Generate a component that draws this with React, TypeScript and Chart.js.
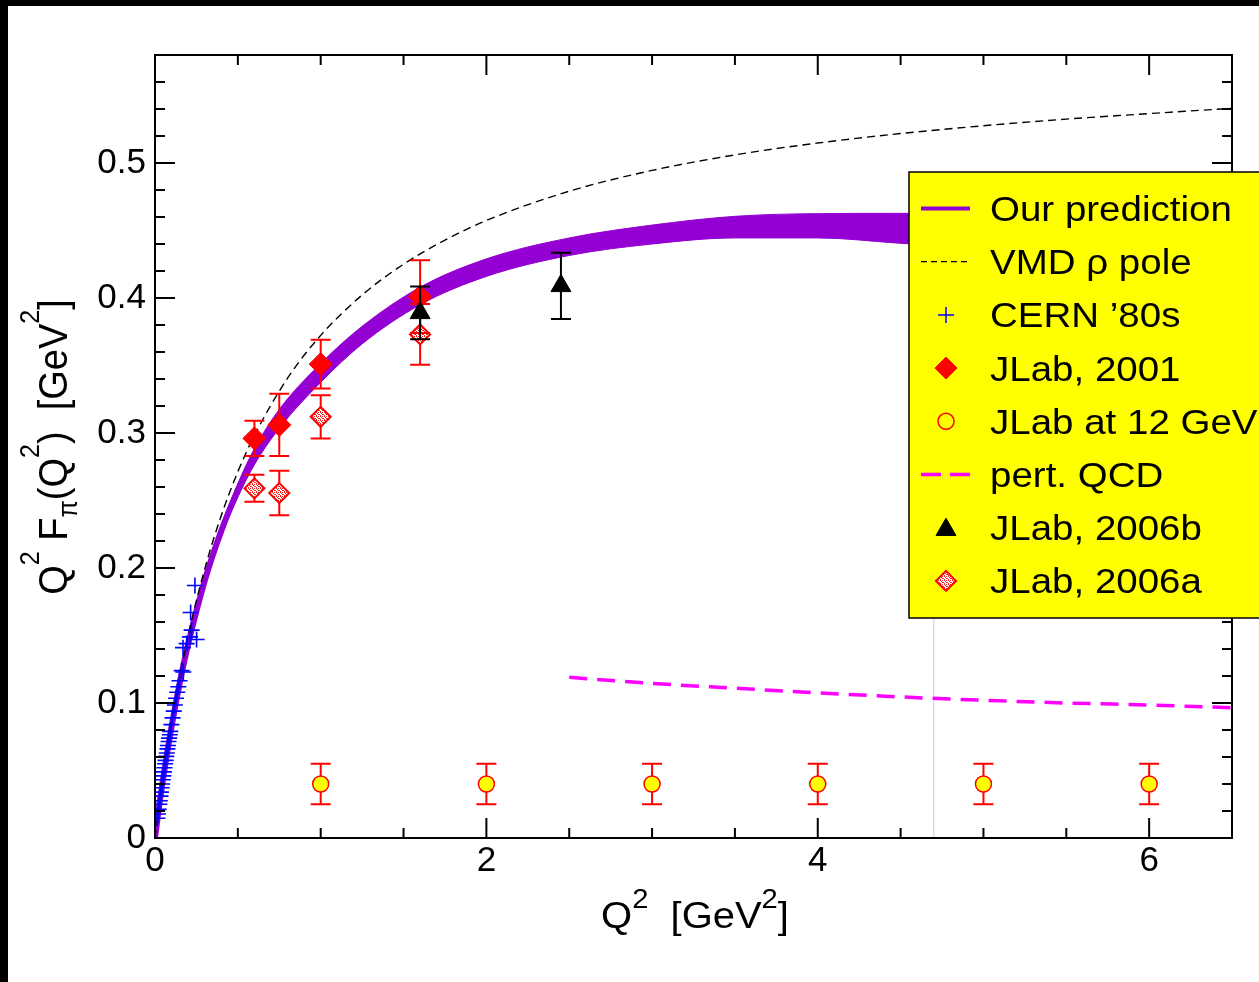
import React, { useEffect, useRef } from 'react';
import { Chart, registerables } from 'chart.js';
import { drawPoint } from 'chart.js/helpers';

Chart.register(...registerables);

// ---------- axes ----------
const X_MIN = 0;
const X_MAX = 6.5;
const Y_MIN = 0;
const Y_MAX = 0.58;
const xTickLabels = [0, 2, 4, 6];
const yTickLabels = [0, 0.1, 0.2, 0.3, 0.4, 0.5];
const xTickMarks = [0, 0.5, 1, 1.5, 2, 2.5, 3, 3.5, 4, 4.5, 5, 5.5, 6, 6.5];
const yTickMarks = [0, 0.02, 0.04, 0.06, 0.08, 0.1, 0.12, 0.14, 0.16, 0.18, 0.2, 0.22, 0.24, 0.26, 0.28, 0.3, 0.32, 0.34, 0.36, 0.38, 0.4, 0.42, 0.44, 0.46, 0.48, 0.5, 0.52, 0.54, 0.56, 0.58];

// ---------- "Our prediction" band ----------
const bandQ2 = [0, 0.025, 0.05, 0.1, 0.15, 0.2, 0.3, 0.4, 0.5, 0.6, 0.75, 1.0, 1.25, 1.6, 2.0, 2.5, 3.0, 3.5, 4.0, 4.5, 4.7];
const bandLow = [0, 0.0234, 0.0445, 0.0815, 0.1135, 0.1415, 0.1875, 0.2235, 0.2525, 0.2765, 0.3035, 0.3375, 0.366, 0.395, 0.416, 0.4315, 0.44, 0.4445, 0.4445, 0.4405, 0.439];
const bandHigh = [0, 0.0237, 0.0452, 0.0835, 0.117, 0.1455, 0.1935, 0.2315, 0.2625, 0.2885, 0.3175, 0.3515, 0.379, 0.408, 0.429, 0.4445, 0.454, 0.4605, 0.4625, 0.4627, 0.4627];
const bandEdgeQ2 = 4.7;

// ---------- VMD rho pole ----------
const vmdQ2 = [0, 0.05, 0.1, 0.2, 0.3, 0.4, 0.5, 0.6, 0.8, 1.0, 1.25, 1.5, 1.75, 2.0, 2.5, 3.0, 3.5, 4.0, 4.5, 5.0, 5.5, 6.0, 6.5];
const vmdVal = [0, 0.0461, 0.0856, 0.1496, 0.1992, 0.2389, 0.2713, 0.2982, 0.3406, 0.3723, 0.4022, 0.425, 0.4429, 0.4574, 0.4791, 0.4945, 0.506, 0.5148, 0.5218, 0.5276, 0.5325, 0.5366, 0.5405];

// ---------- pert. QCD ----------
const pqcdQ2 = [2.5, 3.0, 3.5, 4.0, 4.5, 5.0, 5.5, 6.0, 6.5];
const pqcdVal = [0.119, 0.1145, 0.111, 0.1075, 0.1045, 0.102, 0.1, 0.0985, 0.0965];

// ---------- CERN '80s ----------
const cernQ2 = [0.015, 0.018, 0.022, 0.026, 0.029, 0.033, 0.036, 0.04, 0.043, 0.047, 0.05, 0.054, 0.057, 0.061, 0.064, 0.068, 0.071, 0.075, 0.078, 0.082, 0.085, 0.089, 0.092, 0.099, 0.106, 0.113, 0.12, 0.127, 0.134, 0.141, 0.148, 0.161, 0.171, 0.169, 0.191, 0.211, 0.221, 0.251, 0.215, 0.241];
const cernVal = [0.0146, 0.0178, 0.0212, 0.025, 0.0276, 0.031, 0.034, 0.0372, 0.04, 0.0432, 0.046, 0.049, 0.052, 0.055, 0.0575, 0.0605, 0.063, 0.066, 0.0685, 0.0715, 0.074, 0.0765, 0.079, 0.084, 0.089, 0.094, 0.0985, 0.1035, 0.108, 0.112, 0.1165, 0.124, 0.123, 0.141, 0.144, 0.149, 0.154, 0.147, 0.167, 0.187];

// ---------- JLab data ----------
const jlab2001Q2 = [0.6, 0.75, 1.0, 1.6];
const jlab2001Val = [0.296, 0.306, 0.351, 0.401];
const jlab2001Err = [0.013, 0.023, 0.018, 0.027];

const jlab12Q2 = [1, 2, 3, 4, 5, 6];
const jlab12Val = [0.04, 0.04, 0.04, 0.04, 0.04, 0.04];
const jlab12Err = [0.015, 0.015, 0.015, 0.015, 0.015, 0.015];

const jlab2006bQ2 = [1.6, 2.45];
const jlab2006bVal = [0.389, 0.409];
const jlab2006bErr = [0.0195, 0.0245];

const jlab2006aQ2 = [0.6, 0.75, 1.0, 1.6];
const jlab2006aVal = [0.259, 0.2555, 0.312, 0.373];
const jlab2006aErr = [0.01, 0.0165, 0.016, 0.0225];

const legendLabels = ['Our prediction', 'VMD \u03c1 pole', 'CERN \u201980s', 'JLab, 2001', 'JLab at 12 GeV', 'pert. QCD', 'JLab, 2006b', 'JLab, 2006a'];

// ---------- styles ----------
const FONT = '"Liberation Sans", Arial, Helvetica, sans-serif';
const PURPLE = '#9400d3';
const W = 1259;
const H = 982;

const pts = (xs: number[], ys: number[]) => xs.map((x, i) => ({ x, y: ys[i] }));

type Seg = { t: string; s: number; dy: number };

function richWidth(ctx: CanvasRenderingContext2D, segs: Seg[]) {
  let w = 0;
  for (const g of segs) {
    ctx.font = `${g.s}px ${FONT}`;
    w += ctx.measureText(g.t).width;
  }
  return w;
}
function drawRich(ctx: CanvasRenderingContext2D, segs: Seg[], x0: number) {
  let x = x0;
  for (const g of segs) {
    ctx.font = `${g.s}px ${FONT}`;
    ctx.fillText(g.t, x, g.dy);
    x += ctx.measureText(g.t).width;
  }
}

function makeHatch(): CanvasPattern | string {
  const c = document.createElement('canvas');
  c.width = 4;
  c.height = 4;
  const p = c.getContext('2d');
  if (!p) return '#ffb0b0';
  p.fillStyle = '#ffffff';
  p.fillRect(0, 0, 4, 4);
  p.fillStyle = '#ff2020';
  p.fillRect(0, 0, 1, 1);
  p.fillRect(2, 0, 1, 1);
  p.fillRect(1, 1, 1, 1);
  p.fillRect(3, 2, 1, 1);
  p.fillRect(0, 3, 1, 1);
  p.fillRect(2, 2, 1, 1);
  const pat = p.createPattern(c, 'repeat');
  return pat || '#ffb0b0';
}

export default function App() {
  const ref = useRef<HTMLCanvasElement | null>(null);

  useEffect(() => {
    const canvas = ref.current;
    if (!canvas) return;
    const hatch = makeHatch();

    const bgPlugin = {
      id: 'bg',
      beforeDraw(chart: any) {
        const ctx = chart.ctx;
        ctx.save();
        ctx.fillStyle = '#ffffff';
        ctx.fillRect(0, 0, W, H);
        ctx.fillStyle = '#000000';
        ctx.fillRect(0, 0, W, 6);
        ctx.fillRect(0, 0, 8, H);
        ctx.restore();
      },
    };

    const errPlugin = {
      id: 'errbars',
      beforeDatasetDraw(chart: any, args: any) {
        const ds = chart.data.datasets[args.index];
        if (!ds.yErr) return;
        const ctx = chart.ctx;
        const ys = chart.scales.y;
        ctx.save();
        ctx.strokeStyle = ds.errColor;
        ctx.lineWidth = 2;
        args.meta.data.forEach((el: any, i: number) => {
          const v = ds.data[i].y;
          const e = ds.yErr[i];
          const x = el.x;
          const y1 = ys.getPixelForValue(v - e);
          const y2 = ys.getPixelForValue(v + e);
          ctx.beginPath();
          ctx.moveTo(x, y1);
          ctx.lineTo(x, y2);
          ctx.moveTo(x - 10, y1);
          ctx.lineTo(x + 10, y1);
          ctx.moveTo(x - 10, y2);
          ctx.lineTo(x + 10, y2);
          ctx.stroke();
        });
        ctx.restore();
      },
    };

    const framePlugin = {
      id: 'frame',
      afterDatasetsDraw(chart: any) {
        const ctx = chart.ctx;
        const { left, right, top, bottom } = chart.chartArea;
        const xs = chart.scales.x;
        const ys = chart.scales.y;
        ctx.save();
        ctx.strokeStyle = '#000';
        ctx.lineWidth = 2;
        ctx.strokeRect(left, top, right - left, bottom - top);
        ctx.beginPath();
        xTickMarks.forEach((v) => {
          const px = xs.getPixelForValue(v);
          const len = xTickLabels.includes(v) ? 20 : 10;
          ctx.moveTo(px, bottom);
          ctx.lineTo(px, bottom - len);
          ctx.moveTo(px, top);
          ctx.lineTo(px, top + len);
        });
        yTickMarks.forEach((v) => {
          const py = ys.getPixelForValue(v);
          const len = yTickLabels.some((t) => Math.abs(t - v) < 1e-9) ? 20 : 10;
          ctx.moveTo(left, py);
          ctx.lineTo(left + len, py);
          ctx.moveTo(right, py);
          ctx.lineTo(right - len, py);
        });
        ctx.stroke();
        ctx.restore();
      },
    };

    const titlePlugin = {
      id: 'titles',
      afterDraw(chart: any) {
        const ctx = chart.ctx;
        ctx.save();
        ctx.fillStyle = '#000';
        ctx.textBaseline = 'alphabetic';
        ctx.textAlign = 'left';
        // x title
        const xSegs: Seg[] = [
          { t: 'Q', s: 37, dy: 0 },
          { t: '2', s: 27, dy: -20 },
          { t: '  [GeV', s: 37, dy: 0 },
          { t: '2', s: 27, dy: -20 },
          { t: ']', s: 37, dy: 0 },
        ];
        ctx.save();
        ctx.translate(695, 928);
        ctx.scale(1.08, 1);
        drawRich(ctx, xSegs, -richWidth(ctx, xSegs) / 2);
        ctx.restore();
        // y title
        const ySegs: Seg[] = [
          { t: 'Q', s: 38, dy: 0 },
          { t: '2', s: 25, dy: -26 },
          { t: ' F', s: 38, dy: 0 },
          { t: '\u03c0', s: 25, dy: 9 },
          { t: '(Q', s: 38, dy: 0 },
          { t: '2', s: 25, dy: -26 },
          { t: ')  [GeV', s: 38, dy: 0 },
          { t: '2', s: 25, dy: -26 },
          { t: ']', s: 38, dy: 0 },
        ];
        ctx.save();
        ctx.translate(67, 447);
        ctx.rotate(-Math.PI / 2);
        ctx.scale(1, 1.08);
        drawRich(ctx, ySegs, -richWidth(ctx, ySegs) / 2);
        ctx.restore();
        ctx.restore();
      },
    };

    const legendPlugin = {
      id: 'customLegend',
      afterDraw(chart: any) {
        const ctx = chart.ctx;
        ctx.save();
        const bx = 909;
        const by = 172;
        const bw = 360;
        const bh = 446;
        ctx.fillStyle = '#ffff00';
        ctx.fillRect(bx, by, bw, bh);
        ctx.strokeStyle = '#000';
        ctx.lineWidth = 1.5;
        ctx.strokeRect(bx, by, bw, bh);
        const sx = 946;
        const l0 = 921;
        const l1 = 970;
        const tx = 990;
        const row0 = 208.5;
        const step = 53.2;
        legendLabels.forEach((label, i) => {
          const cy = row0 + i * step;
          ctx.save();
          switch (i) {
            case 0:
              ctx.strokeStyle = PURPLE;
              ctx.lineWidth = 4;
              ctx.beginPath();
              ctx.moveTo(l0, cy);
              ctx.lineTo(l1, cy);
              ctx.stroke();
              break;
            case 1:
              ctx.strokeStyle = '#000';
              ctx.lineWidth = 1.2;
              ctx.setLineDash([6, 4]);
              ctx.beginPath();
              ctx.moveTo(l0, cy);
              ctx.lineTo(l1, cy);
              ctx.stroke();
              break;
            case 2:
              ctx.strokeStyle = '#0000ff';
              ctx.lineWidth = 1.5;
              drawPoint(ctx, { pointStyle: 'cross', radius: 8, rotation: 0, borderWidth: 1.5 } as any, sx, cy);
              break;
            case 3:
              ctx.fillStyle = '#ff0000';
              ctx.strokeStyle = '#ff0000';
              ctx.lineWidth = 1;
              drawPoint(ctx, { pointStyle: 'rectRot', radius: 11, rotation: 0, borderWidth: 1 } as any, sx, cy);
              break;
            case 4:
              ctx.fillStyle = '#ffff00';
              ctx.strokeStyle = '#ff0000';
              ctx.lineWidth = 1.5;
              drawPoint(ctx, { pointStyle: 'circle', radius: 8, rotation: 0, borderWidth: 1.5 } as any, sx, cy);
              break;
            case 5:
              ctx.strokeStyle = '#ff00ff';
              ctx.lineWidth = 3.5;
              ctx.setLineDash([20, 9]);
              ctx.beginPath();
              ctx.moveTo(l0, cy);
              ctx.lineTo(l1, cy);
              ctx.stroke();
              break;
            case 6:
              ctx.fillStyle = '#000';
              ctx.strokeStyle = '#000';
              ctx.lineWidth = 1;
              drawPoint(ctx, { pointStyle: 'triangle', radius: 11.5, rotation: 0, borderWidth: 1 } as any, sx, cy + 2);
              break;
            case 7:
              ctx.fillStyle = hatch as any;
              ctx.strokeStyle = '#ff0000';
              ctx.lineWidth = 2;
              drawPoint(ctx, { pointStyle: 'rectRot', radius: 10, rotation: 0, borderWidth: 2 } as any, sx, cy);
              break;
          }
          ctx.restore();
          ctx.save();
          ctx.fillStyle = '#000';
          ctx.font = `35px ${FONT}`;
          ctx.textBaseline = 'alphabetic';
          ctx.textAlign = 'left';
          ctx.translate(tx, cy + 12.5);
          ctx.scale(1.1, 1);
          ctx.fillText(label, 0, 0);
          ctx.restore();
        });
        ctx.restore();
      },
    };

    const bandMid = bandQ2.map((x, i) => ({ x, y: (bandLow[i] + bandHigh[i]) / 2 }));

    const datasets: any[] = [
      {
        type: 'line',
        label: 'edge',
        data: [
          { x: bandEdgeQ2, y: 0 },
          { x: bandEdgeQ2, y: bandLow[bandLow.length - 1] },
        ],
        borderColor: '#dcbcf8',
        borderWidth: 1,
        pointRadius: 0,
        fill: false,
        order: 20,
      },
      {
        type: 'line',
        label: 'bandHigh',
        data: pts(bandQ2, bandHigh),
        borderColor: PURPLE,
        backgroundColor: PURPLE,
        borderWidth: 1,
        pointRadius: 0,
        cubicInterpolationMode: 'monotone',
        fill: '+1',
        order: 19,
      },
      {
        type: 'line',
        label: 'bandLow',
        data: pts(bandQ2, bandLow),
        borderColor: PURPLE,
        borderWidth: 1,
        pointRadius: 0,
        cubicInterpolationMode: 'monotone',
        fill: false,
        order: 18,
      },
      {
        type: 'line',
        label: 'bandMid',
        data: bandMid,
        borderColor: PURPLE,
        borderWidth: 6,
        pointRadius: 0,
        cubicInterpolationMode: 'monotone',
        fill: false,
        order: 17,
      },
      {
        type: 'line',
        label: 'VMD',
        data: pts(vmdQ2, vmdVal),
        borderColor: '#000',
        borderWidth: 1.4,
        borderDash: [8, 5],
        pointRadius: 0,
        cubicInterpolationMode: 'monotone',
        fill: false,
        order: 16,
      },
      {
        type: 'line',
        label: 'pQCD',
        data: pts(pqcdQ2, pqcdVal),
        borderColor: '#ff00ff',
        borderWidth: 3.5,
        borderDash: [18, 10],
        pointRadius: 0,
        cubicInterpolationMode: 'monotone',
        fill: false,
        order: 15,
      },
      {
        type: 'scatter',
        label: 'CERN',
        data: pts(cernQ2, cernVal),
        pointStyle: 'cross',
        pointRadius: 8,
        borderColor: '#0000ff',
        backgroundColor: '#0000ff',
        pointBorderWidth: 1.6,
        order: 14,
      },
      {
        type: 'scatter',
        label: 'JLab12',
        data: pts(jlab12Q2, jlab12Val),
        yErr: jlab12Err,
        errColor: '#ff0000',
        pointStyle: 'circle',
        pointRadius: 8,
        backgroundColor: '#ffff00',
        borderColor: '#ff0000',
        pointBorderWidth: 1.5,
        order: 13,
      },
      {
        type: 'scatter',
        label: 'JLab2006a',
        data: pts(jlab2006aQ2, jlab2006aVal),
        yErr: jlab2006aErr,
        errColor: '#ff0000',
        pointStyle: 'rectRot',
        pointRadius: 10,
        backgroundColor: hatch,
        borderColor: '#ff0000',
        pointBorderWidth: 2,
        order: 12,
      },
      {
        type: 'scatter',
        label: 'JLab2001',
        data: pts(jlab2001Q2, jlab2001Val),
        yErr: jlab2001Err,
        errColor: '#ff0000',
        pointStyle: 'rectRot',
        pointRadius: 11.5,
        backgroundColor: '#ff0000',
        borderColor: '#ff0000',
        pointBorderWidth: 1,
        order: 11,
      },
      {
        type: 'scatter',
        label: 'JLab2006b',
        data: pts(jlab2006bQ2, jlab2006bVal),
        yErr: jlab2006bErr,
        errColor: '#000000',
        pointStyle: 'triangle',
        pointRadius: 11.5,
        backgroundColor: '#000000',
        borderColor: '#000000',
        pointBorderWidth: 1,
        order: 10,
      },
    ];

    const tickFont = { size: 35, family: FONT };

    const chart = new Chart(canvas, {
      type: 'scatter',
      data: { datasets },
      options: {
        animation: false,
        responsive: false,
        devicePixelRatio: 1,
        events: [],
        layout: { padding: { left: 0, right: W - 1232, top: 55, bottom: 0 } },
        plugins: {
          legend: { display: false },
          tooltip: { enabled: false },
          title: { display: false },
        },
        scales: {
          x: {
            type: 'linear',
            position: 'bottom',
            min: X_MIN,
            max: X_MAX,
            grid: { display: false, drawTicks: false },
            border: { display: false },
            ticks: {
              font: tickFont,
              color: '#000',
              padding: 2,
              maxRotation: 0,
              autoSkip: false,
              callback: (v: any) => String(v),
            },
            afterBuildTicks: (s: any) => {
              s.ticks = xTickLabels.map((v) => ({ value: v }));
            },
            afterFit: (s: any) => {
              s.height = H - 838;
            },
          },
          y: {
            type: 'linear',
            position: 'left',
            min: Y_MIN,
            max: Y_MAX,
            grid: { display: false, drawTicks: false },
            border: { display: false },
            ticks: {
              font: tickFont,
              color: '#000',
              padding: 9,
              autoSkip: false,
              callback: (v: any) => String(v),
            },
            afterBuildTicks: (s: any) => {
              s.ticks = yTickLabels.map((v) => ({ value: v }));
            },
            afterFit: (s: any) => {
              s.width = 155;
            },
          },
        },
      } as any,
      plugins: [bgPlugin, errPlugin, framePlugin, legendPlugin, titlePlugin],
    });

    return () => chart.destroy();
  }, []);

  return (
    <div style={{ position: 'fixed', left: 0, top: 0, width: W, height: H, background: '#fff' }}>
      <canvas ref={ref} width={W} height={H} style={{ width: W, height: H, display: 'block' }} />
    </div>
  );
}
